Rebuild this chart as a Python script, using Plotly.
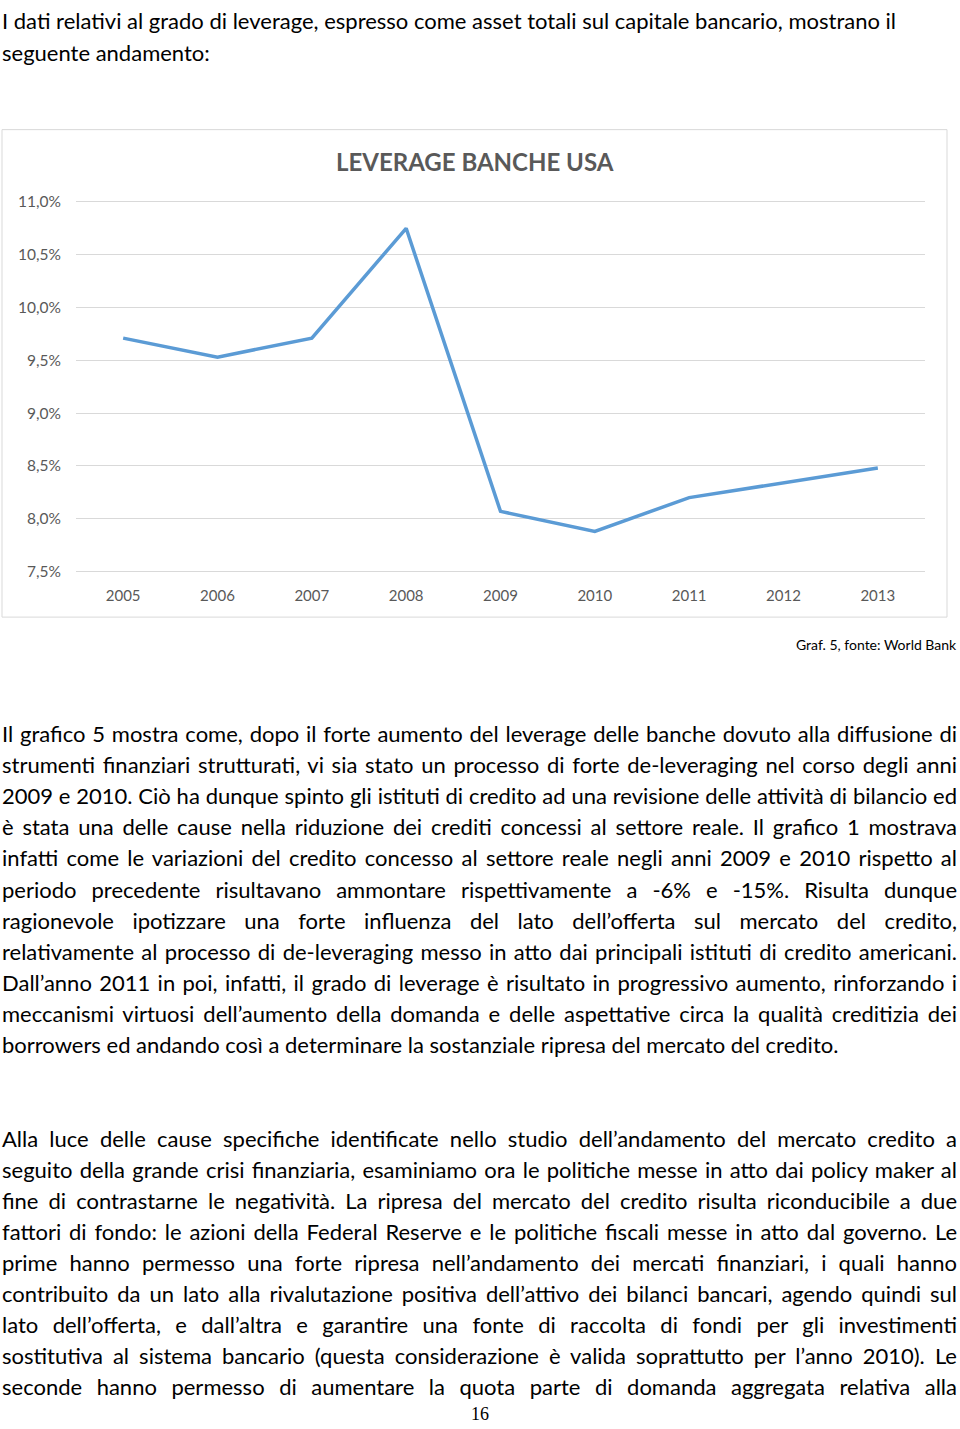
import json
import plotly.graph_objects as go

# leva delle banche USA (asset totali / capitale), fonte World Bank
years = ["2005", "2006", "2007", "2008", "2009", "2010", "2011", "2012", "2013"]
leverage = [9.71, 9.53, 9.71, 10.75, 8.07, 7.88, 8.20, 8.34, 8.48]

chart_title = "LEVERAGE BANCHE USA"
caption = "Graf. 5, fonte: World Bank"
page_number = "16"

intro_lines = [
    "I dati relativi al grado di leverage, espresso come asset totali sul capitale bancario, mostrano il",
    "seguente andamento:",
]

par1_lines = [
    "Il grafico 5 mostra come, dopo il forte aumento del leverage delle banche dovuto alla diffusione di",
    "strumenti finanziari strutturati, vi sia stato un processo di forte de-leveraging nel corso degli anni",
    "2009 e 2010. Ciò ha dunque spinto gli istituti di credito ad una revisione delle attività di bilancio ed",
    "è stata una delle cause nella riduzione dei crediti concessi al settore reale. Il grafico 1 mostrava",
    "infatti come le variazioni del credito concesso al settore reale negli anni 2009 e 2010 rispetto al",
    "periodo precedente risultavano ammontare rispettivamente a -6% e -15%. Risulta dunque",
    "ragionevole ipotizzare una forte influenza del lato dell’offerta sul mercato del credito,",
    "relativamente al processo di de-leveraging messo in atto dai principali istituti di credito americani.",
    "Dall’anno 2011 in poi, infatti, il grado di leverage è risultato in progressivo aumento, rinforzando i",
    "meccanismi virtuosi dell’aumento della domanda e delle aspettative circa la qualità creditizia dei",
    "borrowers ed andando così a determinare la sostanziale ripresa del mercato del credito.",
]

par2_lines = [
    "Alla luce delle cause specifiche identificate nello studio dell’andamento del mercato credito a",
    "seguito della grande crisi finanziaria, esaminiamo ora le politiche messe in atto dai policy maker al",
    "fine di contrastarne le negatività. La ripresa del mercato del credito risulta riconducibile a due",
    "fattori di fondo: le azioni della Federal Reserve e le politiche fiscali messe in atto dal governo. Le",
    "prime hanno permesso una forte ripresa nell’andamento dei mercati finanziari, i quali hanno",
    "contribuito da un lato alla rivalutazione positiva dell’attivo dei bilanci bancari, agendo quindi sul",
    "lato dell’offerta, e dall’altra e garantire una fonte di raccolta di fondi per gli investimenti",
    "sostitutiva al sistema bancario (questa considerazione è valida soprattutto per l’anno 2010). Le",
    "seconde hanno permesso di aumentare la quota parte di domanda aggregata relativa alla",
]

# righe giustificate (tutte tranne l'ultima del primo paragrafo)
justified = par1_lines[:-1] + par2_lines

W, H = 960, 1429
GREY = "#595959"
BODY_FONT = "Lato"
BODY_SIZE = 22


def px(x):
    return x / W


def py(y):
    return 1 - y / H


fig = go.Figure()

fig.add_trace(go.Scatter(
    x=years, y=leverage, mode="lines",
    line=dict(color="#5B9BD5", width=3.5),
    hoverinfo="x+y",
))

fig.update_layout(
    width=W, height=H,
    margin=dict(l=0, r=0, t=0, b=0),
    paper_bgcolor="white", plot_bgcolor="white",
    showlegend=False,
    separators=",.",
    font=dict(family=BODY_FONT, color=GREY),
)

fig.update_xaxes(
    domain=[px(76), px(925)],
    type="category",
    range=[-0.5, 8.5],
    showgrid=False, zeroline=False, showline=False,
    ticks="", ticklabelstandoff=12,
    tickfont=dict(size=15, color=GREY),
)
fig.update_yaxes(
    domain=[py(570), py(194)],
    range=[7.49, 11.01],
    dtick=0.5, tick0=7.5,
    tickformat=".1f", ticksuffix="%",
    showgrid=True, gridcolor="#d9d9d9", gridwidth=1,
    zeroline=False, showline=False,
    ticks="", ticklabelstandoff=14,
    tickfont=dict(size=15.5, color=GREY),
)

# cornice del grafico
fig.add_shape(type="rect", xref="paper", yref="paper",
              x0=px(2), x1=px(947), y0=py(615), y1=py(122),
              line=dict(color="#d9d9d9", width=1), layer="below")

annots = []
annots.append(dict(text="<b>" + chart_title + "</b>", x=px(475), y=py(154),
                   xanchor="center", yanchor="middle",
                   font=dict(family=BODY_FONT, size=24, color=GREY)))
annots.append(dict(text=caption, x=px(959), y=py(643),
                   xanchor="right", yanchor="middle",
                   font=dict(family=BODY_FONT, size=14, color="#000000")))
annots.append(dict(text=page_number, x=px(480), y=py(1421),
                   xanchor="center", yanchor="middle",
                   font=dict(family="Liberation Serif", size=18, color="#000000")))

for i, line in enumerate(intro_lines):
    annots.append(dict(text=line, x=0, y=py(12 + i * 31.5),
                       xanchor="left", yanchor="middle",
                       font=dict(family=BODY_FONT, size=22, color="#000000")))

for i, line in enumerate(par1_lines):
    annots.append(dict(text=line, x=0, y=py(733 + i * 31.4),
                       xanchor="left", yanchor="middle",
                       font=dict(family=BODY_FONT, size=BODY_SIZE, color="#000000")))

for i, line in enumerate(par2_lines):
    annots.append(dict(text=line, x=0, y=py(1142 + i * 31.4),
                       xanchor="left", yanchor="middle",
                       font=dict(family=BODY_FONT, size=BODY_SIZE, color="#000000")))

for a in annots:
    a.update(xref="paper", yref="paper", showarrow=False, align="left")
fig.update_layout(annotations=annots)

# pagina senza margini + testo giustificato fino al bordo destro (x=957)
post = """
document.body.style.margin = '0';
document.body.style.overflow = 'hidden';
var J = new Set(%s);
document.querySelectorAll('text.annotation-text').forEach(function (t) {
  if (!J.has(t.textContent)) return;
  var n = (t.textContent.match(/ /g) || []).length;
  if (!n) return;
  var r = t.getBoundingClientRect();
  var extra = 957 - r.left - r.width;
  if (extra > 0) t.style.wordSpacing = (extra / n) + 'px';
});
""" % json.dumps(justified, ensure_ascii=False)

fig.write_html("out.html", post_script=post, config={"displayModeBar": False})
